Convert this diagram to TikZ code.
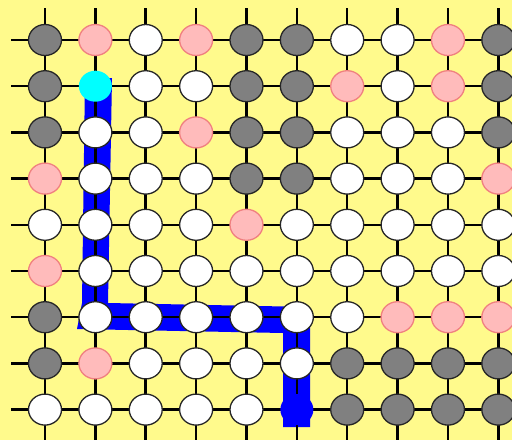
\documentclass[tikz,border=0pt]{standalone}
\usetikzlibrary{shapes.geometric}
\definecolor{bg}{RGB}{255,250,140}
\definecolor{stone}{RGB}{128,128,128}
\definecolor{pinkf}{RGB}{255,187,187}
\definecolor{pinke}{RGB}{240,128,128}
\definecolor{aqua}{RGB}{0,255,255}
\definecolor{pureblue}{RGB}{0,0,255}
\begin{document}
\begin{tikzpicture}[x=1pt,y=-1pt,
  st/.style={ellipse, minimum width=33pt, minimum height=31pt, inner sep=0pt, line width=1.3pt},
  W/.style={st, draw=black!85, fill=white},
  G/.style={st, draw=black!85, fill=stone},
  P/.style={st, draw=pinke, fill=pinkf},
  C/.style={st, fill=aqua},
  B/.style={st, fill=pureblue},
  gridline/.style={line width=2.5pt, black},
  band/.style={fill=pureblue}]
\useasboundingbox (0,0) rectangle (512,440);
\fill[bg] (0,0) rectangle (512,440);
% path band
\fill[band] (85,78) -- (112,78) -- (108,303) -- (310,307) -- (310,427) -- (283,427)
  -- (283,333) -- (77,329) -- (82,303) -- cycle;
% grid
\foreach \j in {0,...,8} {
  \coordinate (hl-\j) at (11,{40+46.2*\j});
  \coordinate (hr-\j) at (512,{40+46.2*\j});
  \draw[gridline] (hl-\j) -- (hr-\j);
}
\foreach \i in {0,...,9} {
  \coordinate (vt-\i) at ({45+50.37*\i},8);
  \coordinate (vb-\i) at ({45+50.37*\i},440);
  \draw[gridline] (vt-\i) -- (vb-\i);
}
% stones
\foreach \row [count=\j from 0] in {
  {G,P,W,P,G,G,W,W,P,G},
  {G,C,W,W,G,G,P,W,P,G},
  {G,W,W,P,G,G,W,W,W,G},
  {P,W,W,W,G,G,W,W,W,P},
  {W,W,W,W,P,W,W,W,W,W},
  {P,W,W,W,W,W,W,W,W,W},
  {G,W,W,W,W,W,W,P,P,P},
  {G,P,W,W,W,W,G,G,G,G},
  {W,W,W,W,W,B,G,G,G,G}} {
  \foreach \t [count=\i from 0] in \row {
    \edef\mknode{\noexpand\node[\t] (n-\i-\j) at ({45+50.37*\i},{40+46.2*\j}) {};}
    \mknode
  }
}
\end{tikzpicture}
\end{document}
